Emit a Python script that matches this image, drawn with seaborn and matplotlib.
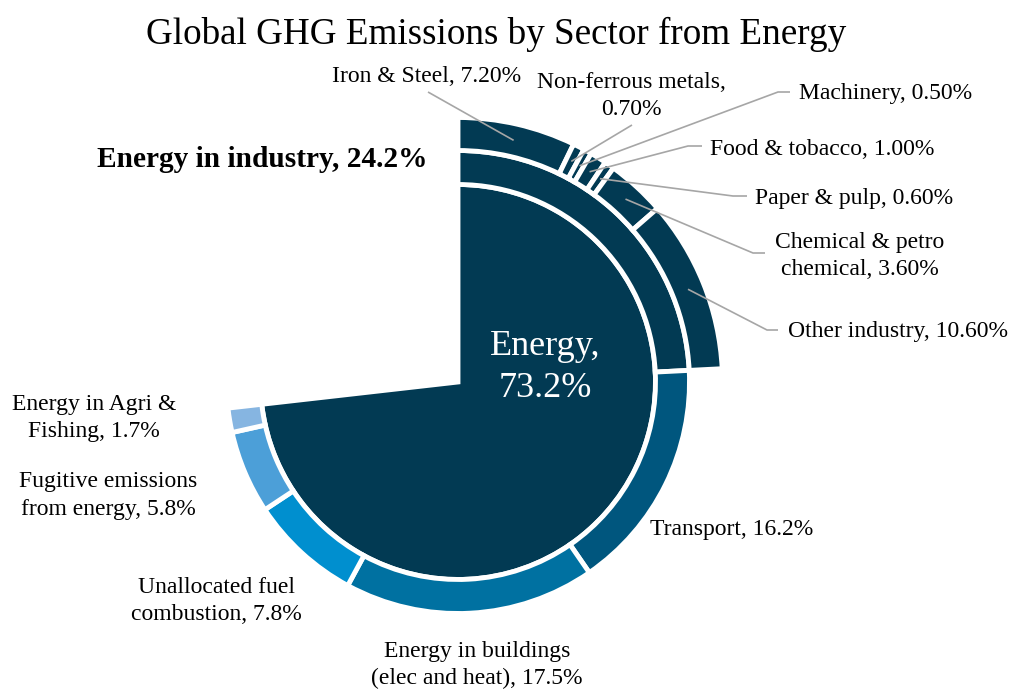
import matplotlib
matplotlib.use("Agg")
import matplotlib.pyplot as plt
import numpy as np
import seaborn as sns

# ---- data -------------------------------------------------------------
energy_name = "Energy"
energy_share = 73.2

sector_names = ["Energy in industry", "Transport",
                "Energy in buildings\n(elec and heat)",
                "Unallocated fuel\ncombustion",
                "Fugitive emissions\nfrom energy",
                "Energy in Agri &\nFishing"]
sector_values = [24.2, 16.2, 17.5, 7.8, 5.8, 1.7]

industry_names = ["Iron & Steel", "Non-ferrous metals", "Machinery",
                  "Food & tobacco", "Paper & pulp",
                  "Chemical & petro\nchemical", "Other industry"]
industry_values = [7.2, 0.7, 0.5, 1.0, 0.6, 3.6, 10.6]

# ---- style ------------------------------------------------------------
sns.set_theme(style="white")
plt.rcParams["font.family"] = ["Liberation Serif", "DejaVu Serif"]

NAVY = "#023A53"
sector_colors = [NAVY, "#00567E", "#0071A1", "#008FCF", "#4C9FD8", "#86B5E1"]
LEADER = "#A6A6A6"

W, H = 1013, 689
fig = plt.figure(figsize=(W / 100, H / 100), dpi=100)
ax = fig.add_axes([0, 0, 1, 1])

# work in pixel units, y measured from the top
def py(y):
    return H - y

CX, CY = 458, 382
center = (CX, py(CY))
R_IN, R_MID, R_OUT = 197.5, 231.5, 264.5
edge = dict(edgecolor="white", linewidth=3.5)

# inner disc: total energy share
ax.pie([energy_share / 100], radius=R_IN, center=center, startangle=90,
       counterclock=False, normalize=False, colors=[NAVY],
       wedgeprops=edge)
# middle ring: sectors
ax.pie(np.array(sector_values) / 100, radius=R_MID, center=center,
       startangle=90, counterclock=False, normalize=False,
       colors=sector_colors, wedgeprops=dict(width=R_MID - R_IN, **edge))
# outer ring: industry breakdown
ax.pie(np.array(industry_values) / 100, radius=R_OUT, center=center,
       startangle=90, counterclock=False, normalize=False,
       colors=[NAVY] * len(industry_values),
       wedgeprops=dict(width=R_OUT - R_MID, **edge))

ax.set_xlim(0, W)
ax.set_ylim(0, H)
ax.set_aspect("equal")
ax.axis("off")

LABEL_FS = 17


def put_lines(text, x, y, ha="center", step=27.5, size=LABEL_FS, **kw):
    for i, line in enumerate(text.split("\n")):
        ax.text(x, py(y + i * step), line, ha=ha, va="baseline",
                fontsize=size, **kw)


# title
ax.text(496, py(44), "Global GHG Emissions by Sector from Energy",
        ha="center", va="baseline", fontsize=26.7, color="black")

# centre label
put_lines(f"{energy_name},\n{energy_share:.1f}%", 545, 355, step=42,
          size=26, color="white")

# sector labels
sector_layout = [
    (97, 167, "left"),      # industry (bold)
    (650, 535, "left"),
    (477, 657, "center"),
    (216, 593, "center"),
    (108, 487, "center"),
    (94, 410, "center"),
]
for i, (name, val) in enumerate(zip(sector_names, sector_values)):
    x, y, ha = sector_layout[i]
    txt = f"{name}, {val:.1f}%"
    if i == 0:
        put_lines(txt, x, y, ha=ha, size=21.2, weight="bold", color="black")
    else:
        put_lines(txt, x, y, ha=ha, color="black")

# industry labels with leader lines: (text x, baseline y, ha, line end points)
industry_layout = [
    (427, 82, "center", [(428, 92)]),
    (631, 88, "center", [(632, 125)]),
    (799, 99, "left", [(778, 92), (790, 92)]),
    (710, 155, "left", [(688, 146), (702, 146)]),
    (755, 204, "left", [(733, 196), (747, 196)]),
    (860, 248, "center", [(753, 253), (765, 253)]),
    (788, 337, "left", [(767, 330), (778, 330)]),
]
r_anchor = (R_MID + R_OUT) / 2
start = 0.0
for name, val, (x, y, ha, pts) in zip(industry_names, industry_values,
                                      industry_layout):
    mid = start + val / 2
    start += val
    ang = np.deg2rad(90 - 3.6 * mid)
    ax_, ay_ = CX + r_anchor * np.cos(ang), py(CY) + r_anchor * np.sin(ang)
    xs = [ax_] + [p[0] for p in pts]
    ys = [ay_] + [py(p[1]) for p in pts]
    ax.plot(xs, ys, color=LEADER, lw=1.2, solid_capstyle="butt")
    sep = ",\n" if name == "Non-ferrous metals" else ", "
    put_lines(f"{name}{sep}{val:.2f}%", x, y, ha=ha, step=27, color="black")

fig.savefig("out.png", dpi=100, facecolor="white")
